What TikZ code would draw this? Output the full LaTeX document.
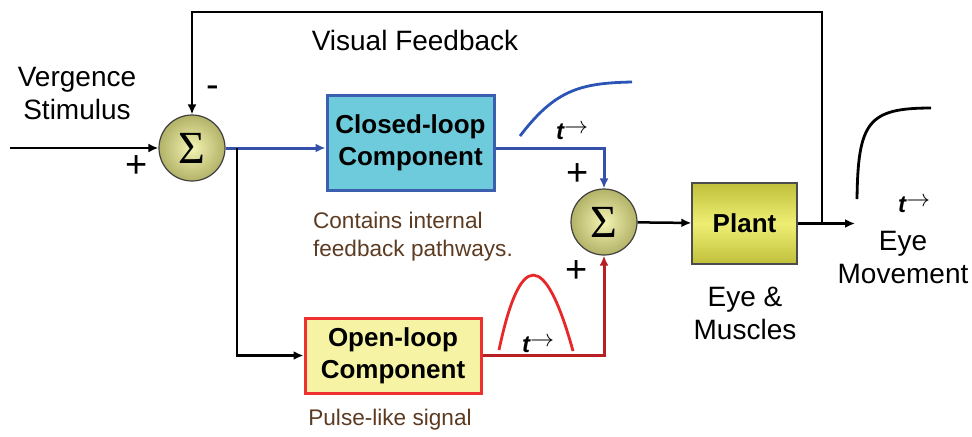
\documentclass[tikz,border=0pt]{standalone}
\usepackage{fontspec}
\setmainfont{Liberation Sans}
\newfontfamily\sigmafont{Liberation Serif}
\usetikzlibrary{arrows.meta}

\begin{document}
\begin{tikzpicture}[x=0.5pt,y=-0.5pt,>={Latex[length=5pt,width=4.5pt]},
  sumnode/.style={circle,draw=black!75,line width=0.6pt,minimum size=33pt,inner sep=0pt,
    inner color=sumlight,outer color=sumdark,font=\sigmafont\fontsize{23}{23}\selectfont},
  closedbox/.style={draw=boxblue,line width=1.5pt,fill=closedfill,minimum width=83.5pt,minimum height=47.5pt,
    align=center,font=\bfseries\fontsize{13}{16}\selectfont},
  openbox/.style={draw=boxred,line width=1.5pt,fill=openfill,minimum width=88pt,minimum height=37.5pt,
    align=center,font=\bfseries\fontsize{13}{16}\selectfont},
  plantbox/.style={draw=black!70,line width=0.7pt,minimum width=52.5pt,minimum height=40.5pt,
    top color=plantdark,bottom color=plantdark,middle color=plantlight,font=\bfseries\fontsize{13}{16}\selectfont},
  mytext/.style={align=center,font=\fontsize{14}{16.5}\selectfont},
  note/.style={align=left,text=notebrown,font=\fontsize{11.3}{14}\selectfont},
  sign/.style={font=\fontsize{19}{19}\selectfont},
  tlabel/.style={font=\bfseries\itshape\fontsize{12}{12}\selectfont},
  line/.style={line width=1.25pt},
  blueline/.style={line width=1.5pt,draw=lineblue},
  redline/.style={line width=1.5pt,draw=linered}]
\definecolor{sumlight}{HTML}{F4F4B4}
\definecolor{sumdark}{HTML}{B2B268}
\definecolor{closedfill}{HTML}{6ECBDB}
\definecolor{boxblue}{HTML}{3D5FB0}
\definecolor{lineblue}{HTML}{3550AA}
\definecolor{boxred}{HTML}{EE3030}
\definecolor{linered}{HTML}{B81F24}
\definecolor{openfill}{HTML}{F6F4A4}
\definecolor{plantdark}{HTML}{C0C03C}
\definecolor{plantlight}{HTML}{EEEE74}
\definecolor{notebrown}{HTML}{5C3B22}
\definecolor{curveblue}{HTML}{2A55B5}
\definecolor{curvered}{HTML}{E82828}
\useasboundingbox (0,0) rectangle (972,436);

% blocks
\node [sumnode] (s1) at (192,148) {Σ};
\node [sumnode] (s2) at (604,222) {Σ};
\node [closedbox] (cl) at (410.5,142.5) {Closed-loop\\Component};
\node [openbox] (op) at (393,355.5) {Open-loop\\Component};
\node [plantbox] (pl) at (744.5,223.5) {Plant};

% texts
\node [mytext] (fbtext) at (415,40) {Visual Feedback};
\node [mytext] (stim) at (77,93) {Vergence\\Stimulus};
\node [mytext] (eyemus) at (745,313) {Eye \&\\Muscles};
\node [mytext] (eyemov) at (903,257) {Eye\\Movement};
\node [note,anchor=north west] (clnote) at (306,205) {Contains internal\\feedback pathways.};
\node [note] (opnote) at (390,420) {Pulse-like signal};
\node [sign] (minus) at (213,92) {-};
\foreach \nm/\px/\py in {plusa/137/167,plusb/578/175,plusc/577/272}
  {\node [sign] (\nm) at (\px,\py) {+};}
\foreach \nm/\px/\py in {ta/572/132,tb/538/345,tc/914/205}
  {\node [tlabel] (\nm) at (\px,\py) {t\raisebox{3pt}{$\rightarrow$}};}

% connectors
\coordinate (in) at (10,148);
\coordinate (br) at (237,148);
\coordinate (fb) at (822,223.5);
\coordinate (ftop) at (192,12);
\coordinate (out) at (855,223.5);
\draw [line,->] (in) -- (s1);
\draw [line,->] (fb) |- (ftop) -- (s1);
\draw [blueline,->] (s1) -- (s1 -| cl.west);
\draw [line,->] (br) |- (op.west);
\draw [blueline,->] (cl.east |- s1) -| (s2);
\draw [redline,->] (op.east) -| (s2);
\draw [line,->] (s2) -- (pl);
\draw [line,->] (pl) -- (out);

% signal shapes
\draw [line width=1.4pt,curveblue] (520,136) .. controls (555,90) and (580,83) .. (632,82);
\draw [line width=1.4pt,curvered] (499,350) .. controls (520,250) and (545,250) .. (573,351);
\draw [line width=1.4pt,black] (857,199) .. controls (858,122) and (868,108) .. (931,108);
\end{tikzpicture}
\end{document}
